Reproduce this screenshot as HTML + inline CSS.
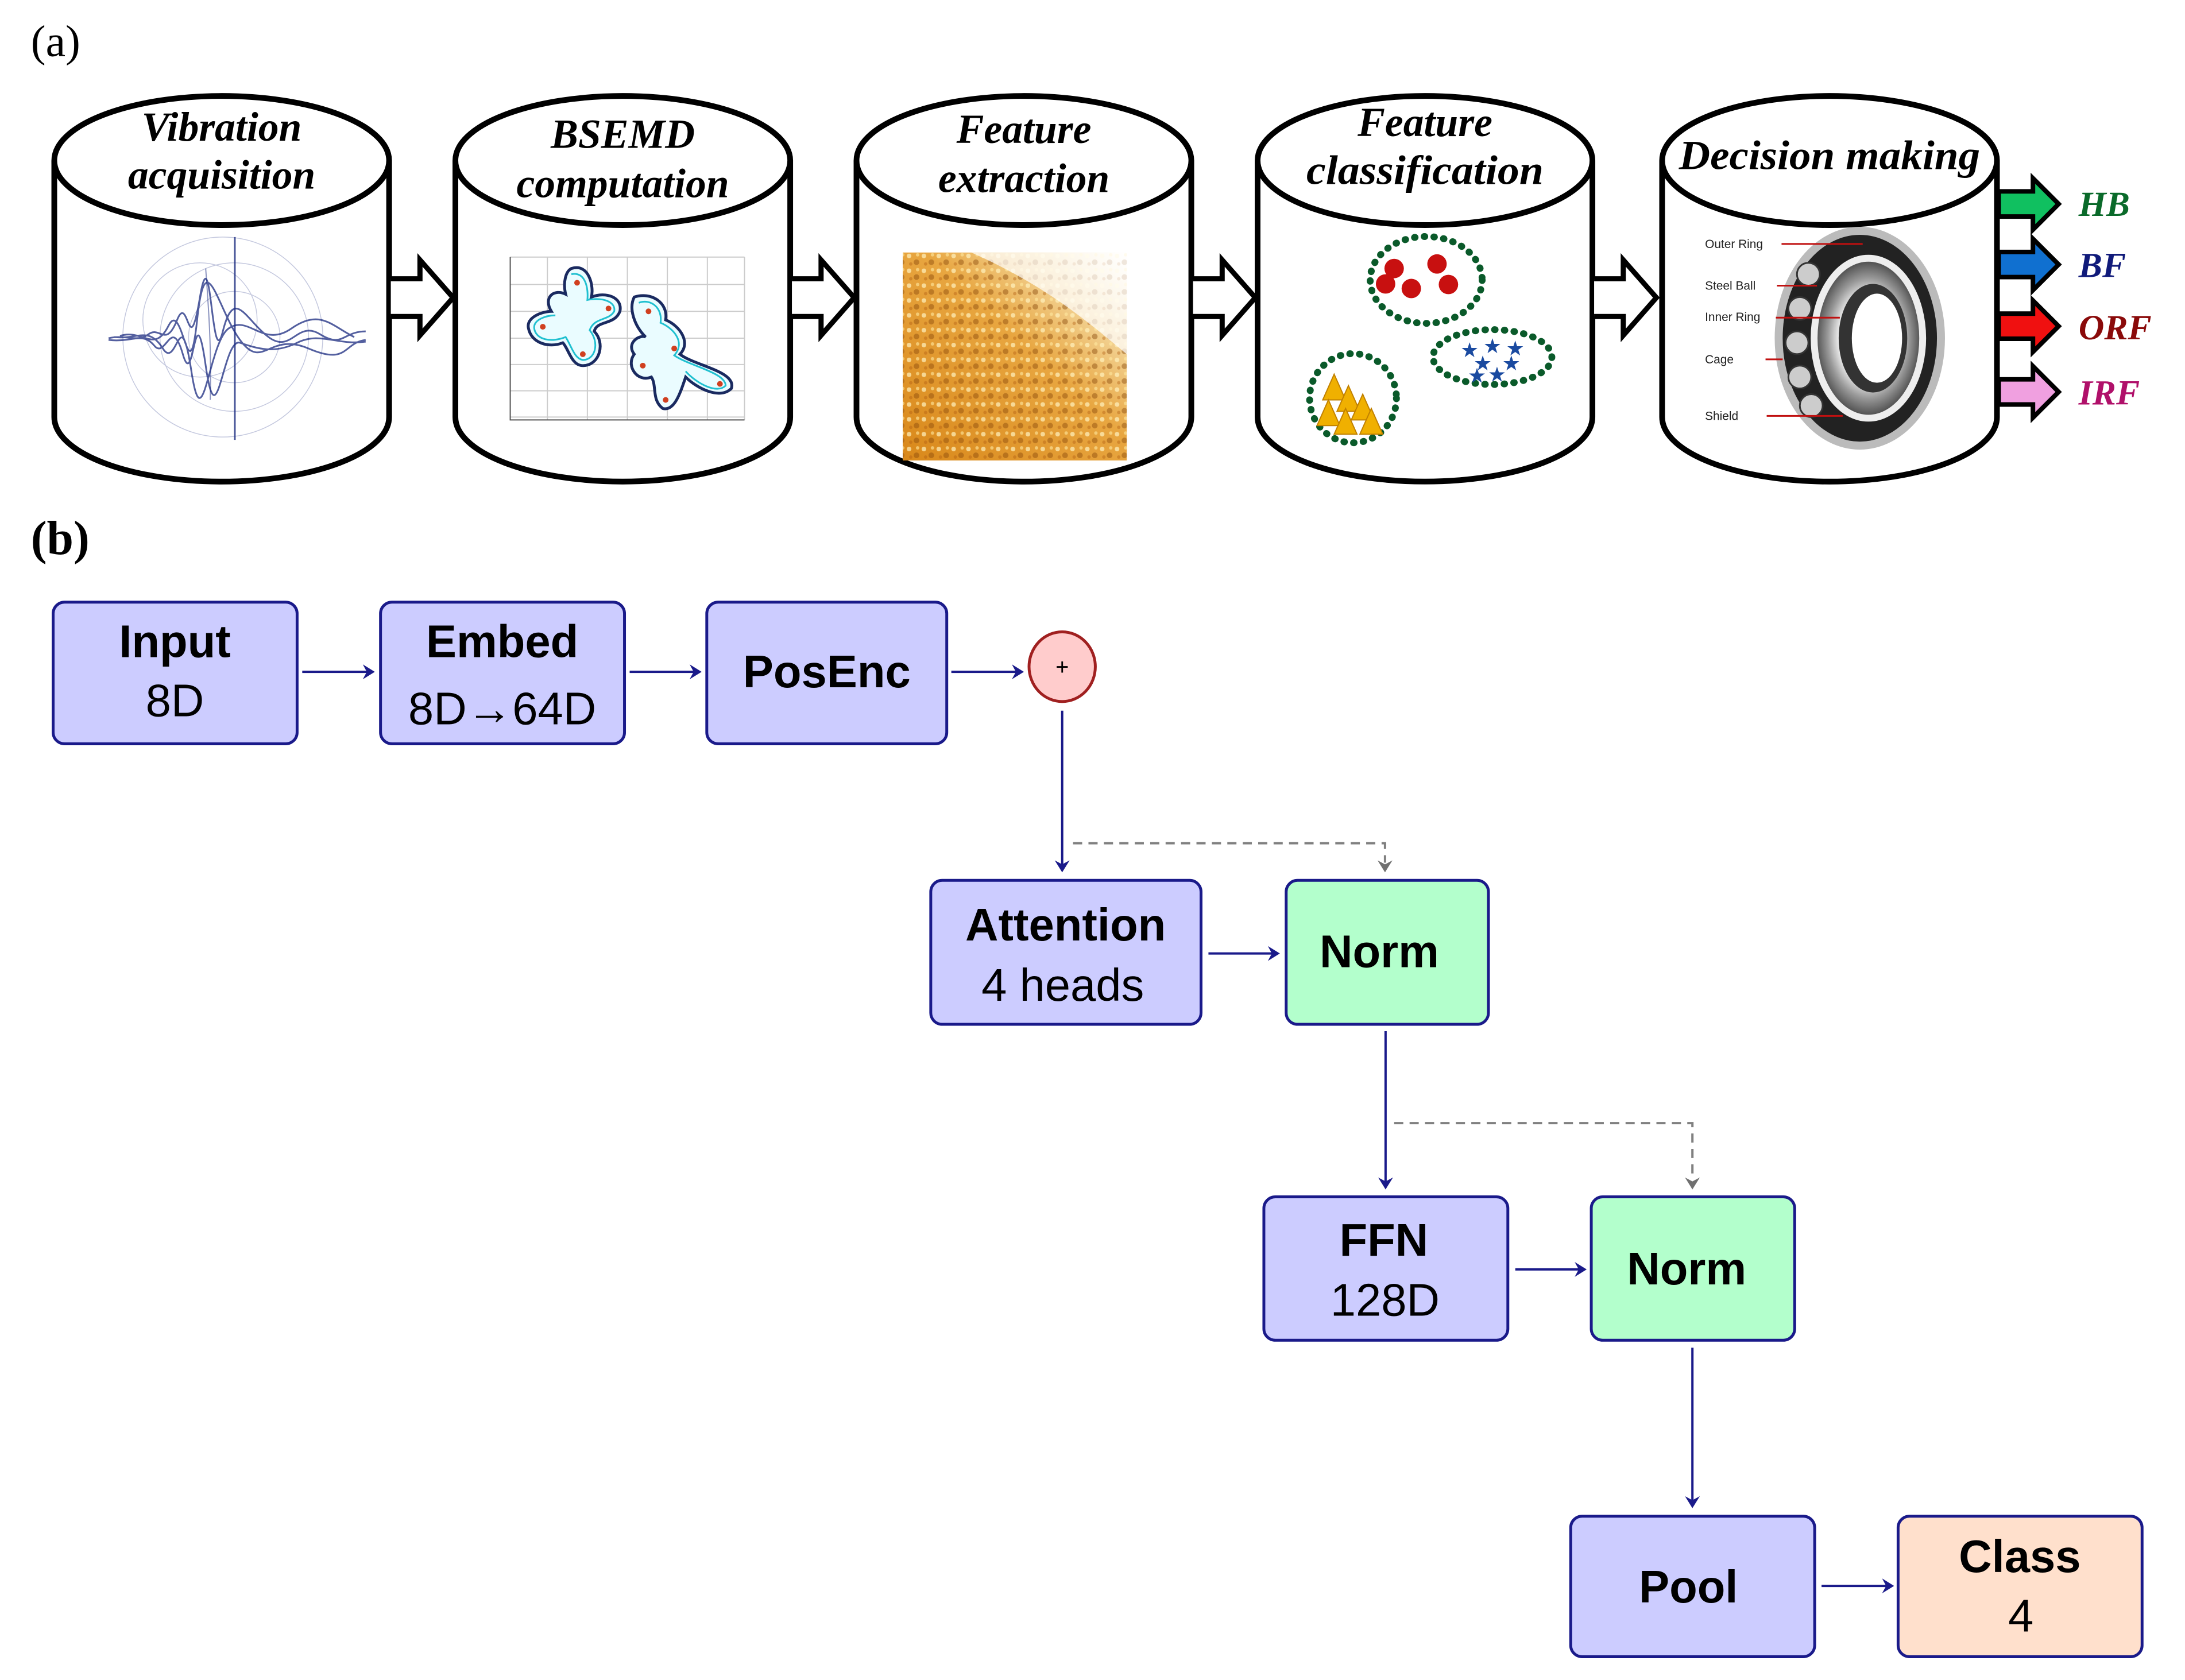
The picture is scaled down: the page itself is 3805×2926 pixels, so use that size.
<!DOCTYPE html>
<html><head><meta charset="utf-8"><style>html,body{margin:0;padding:0;background:#fff}svg{display:block}</style></head>
<body>
<svg xmlns="http://www.w3.org/2000/svg" width="3805" height="2926" viewBox="0 0 3805 2926">
<defs>
<linearGradient id="org" x1="0" y1="1" x2="1" y2="0">
<stop offset="0" stop-color="#d9881a"/><stop offset="0.55" stop-color="#e8a640"/><stop offset="0.8" stop-color="#f4d9a0"/><stop offset="1" stop-color="#ffffff"/>
</linearGradient>
<pattern id="spk" width="26" height="26" patternUnits="userSpaceOnUse">
<circle cx="5" cy="6" r="4" fill="#fff3c0" opacity="0.7"/><circle cx="18" cy="17" r="5" fill="#8a4a0a" opacity="0.45"/><circle cx="20" cy="4" r="3" fill="#ffe9a0" opacity="0.6"/><circle cx="8" cy="20" r="3" fill="#b05a10" opacity="0.4"/>
</pattern>
<radialGradient id="ring" cx="0.5" cy="0.5" r="0.5"><stop offset="0.5" stop-color="#fff"/><stop offset="0.75" stop-color="#999"/><stop offset="1" stop-color="#444"/></radialGradient>
</defs>
<g transform="scale(0.995)">
<!-- (a) -->
<text x="54" y="98" font-family="Liberation Serif, serif" font-size="78">(a)</text>

<g fill="#fff" stroke="#000" stroke-width="10">
<path d="M95,281 L95,730 A293,113 0 0 0 681,730 L681,281"/>
<ellipse cx="388" cy="281" rx="293" ry="113"/>
<path d="M797,281 L797,730 A293,113 0 0 0 1383,730 L1383,281"/>
<ellipse cx="1090" cy="281" rx="293" ry="113"/>
<path d="M1499,281 L1499,730 A293,113 0 0 0 2085,730 L2085,281"/>
<ellipse cx="1792" cy="281" rx="293" ry="113"/>
<path d="M2201,281 L2201,730 A293,113 0 0 0 2787,730 L2787,281"/>
<ellipse cx="2494" cy="281" rx="293" ry="113"/>
<path d="M2909,281 L2909,730 A293,113 0 0 0 3495,730 L3495,281"/>
<ellipse cx="3202" cy="281" rx="293" ry="113"/>
</g>

<g fill="#fff" stroke="#000" stroke-width="9" stroke-linejoin="miter">
<path d="M684,488 L735,488 L735,455 L793,521 L735,587 L735,554 L684,554"/>
<path d="M1386,488 L1437,488 L1437,455 L1495,521 L1437,587 L1437,554 L1386,554"/>
<path d="M2088,488 L2139,488 L2139,455 L2197,521 L2139,587 L2139,554 L2088,554"/>
<path d="M2790,488 L2841,488 L2841,455 L2899,521 L2841,587 L2841,554 L2790,554"/>
</g>

<g font-family="Liberation Serif, serif" font-weight="bold" font-style="italic" font-size="72" text-anchor="middle" fill="#000">
<text x="388" y="246">Vibration</text>
<text x="388" y="330">acquisition</text>
<text x="1090" y="259">BSEMD</text>
<text x="1090" y="345">computation</text>
<text x="1792" y="250">Feature</text>
<text x="1792" y="336">extraction</text>
<text x="2494" y="238">Feature</text>
<text x="2494" y="322" textLength="415" lengthAdjust="spacingAndGlyphs">classification</text>
<text x="3202" y="296" textLength="527" lengthAdjust="spacingAndGlyphs">Decision making</text>
</g>

<g fill="none" stroke="#1a2a80">
<g stroke-width="1.5" opacity="0.25">
<circle cx="410" cy="590" r="80"/><circle cx="410" cy="590" r="130"/><circle cx="390" cy="590" r="175"/><circle cx="350" cy="560" r="100"/>
</g>
<g stroke-width="3" opacity="0.75">
<path d="M190,592 C220,585 240,600 260,585 S290,610 310,560 S330,640 350,520 S370,660 390,580 S430,560 470,590 S520,560 560,585 S600,580 640,580"/>
<path d="M190,595 C230,600 250,580 270,605 S300,550 320,620 S340,500 360,640 S390,590 420,600 S480,620 520,600 S590,605 640,598"/>
<path d="M200,590 C240,595 260,570 285,610 S315,520 335,650 S365,600 400,575 S460,610 510,575 S580,570 620,590"/>
<path d="M210,588 C250,575 270,620 295,570 S330,700 345,560 S380,540 420,595 S470,580 540,610 S600,600 640,595"/>
</g>
<path d="M411,415 L411,770" stroke-width="3" opacity="0.8"/>
<path d="M360,470 C365,540 370,600 368,700" stroke-width="2" opacity="0.5"/>
</g>

<g>
<g stroke="#ccc" stroke-width="2">
<path d="M893,450 V735 M958,450 V735 M1028,450 V735 M1098,450 V735 M1168,450 V735 M1238,450 V735 M1303,450 V735"/>
<path d="M893,450 H1303 M893,498 H1303 M893,545 H1303 M893,592 H1303 M893,638 H1303 M893,684 H1303 M893,730 H1303"/>
</g>
<path d="M893,450 V735 H1303" stroke="#555" stroke-width="2" fill="none"/>
<g fill="#eafcff" stroke="#1a2a60" stroke-width="5">
<path d="M1000,470 C1030,460 1040,500 1035,520 C1060,510 1090,520 1085,545 C1075,570 1045,560 1040,580 C1060,600 1050,640 1020,640 C1000,640 995,610 985,600 C960,610 930,600 925,575 C920,555 950,545 965,545 C950,520 970,505 990,515 C985,495 990,475 1000,470Z"/>
<path d="M1110,520 C1140,510 1170,530 1165,560 C1190,570 1210,600 1190,620 C1215,640 1290,650 1280,680 C1260,700 1220,680 1200,660 C1190,690 1180,720 1160,715 C1140,700 1150,675 1140,660 C1115,670 1095,640 1110,620 C1095,600 1120,585 1130,590 C1110,570 1100,540 1110,520Z"/>
</g>
<g fill="none" stroke="#20c0d0" stroke-width="3">
<path d="M1000,480 C1025,475 1030,505 1028,525 C1055,520 1078,528 1075,545 C1065,562 1040,555 1032,578 C1050,600 1042,630 1020,630 C1005,628 1000,605 990,590 C965,600 938,595 935,575 C933,560 955,552 972,552"/>
<path d="M1118,530 C1140,522 1160,540 1156,565 C1180,575 1200,600 1180,622 C1205,640 1270,652 1270,675 C1255,690 1220,672 1200,650"/>
</g>
<g fill="#d04020"><circle cx="1010" cy="495" r="5"/><circle cx="1065" cy="540" r="5"/><circle cx="950" cy="572" r="5"/><circle cx="1020" cy="620" r="5"/><circle cx="1135" cy="545" r="5"/><circle cx="1180" cy="610" r="5"/><circle cx="1260" cy="672" r="5"/><circle cx="1165" cy="700" r="5"/><circle cx="1125" cy="640" r="5"/></g>
</g>

<rect x="1580" y="442" width="392" height="364" fill="url(#org)"/>
<rect x="1580" y="442" width="392" height="364" fill="url(#spk)"/>
<path d="M1700,442 L1972,442 L1972,620 C1900,560 1830,500 1700,442Z" fill="#fff" opacity="0.7"/>

<g fill="none" stroke="#0a5a2a" stroke-width="12" stroke-dasharray="1 16" stroke-linecap="round">
<ellipse cx="2496" cy="490" rx="98" ry="76"/>
<ellipse cx="2612" cy="625" rx="104" ry="48"/>
<ellipse cx="2368" cy="697" rx="76" ry="78"/>
</g>
<g fill="#c81010">
<circle cx="2440" cy="470" r="17"/><circle cx="2515" cy="462" r="17"/><circle cx="2425" cy="497" r="17"/><circle cx="2470" cy="505" r="17"/><circle cx="2535" cy="498" r="17"/>
</g>
<g fill="#1a4aa0" font-family="DejaVu Sans, sans-serif" font-size="36" text-anchor="middle">
<text x="2572" y="625">★</text><text x="2612" y="618">★</text><text x="2652" y="622">★</text><text x="2595" y="648">★</text><text x="2645" y="648">★</text><text x="2585" y="670">★</text><text x="2620" y="668">★</text>
</g>
<g fill="#f0b000" stroke="#c08000" stroke-width="2">
<path d="M2335,655 L2355,700 L2315,700Z"/><path d="M2360,675 L2380,720 L2340,720Z"/><path d="M2325,700 L2345,745 L2305,745Z"/><path d="M2385,690 L2405,735 L2365,735Z"/><path d="M2355,715 L2375,760 L2335,760Z"/><path d="M2400,715 L2420,760 L2380,760Z"/>
</g>

<g>
<ellipse cx="3255" cy="592" rx="142" ry="188" fill="#222" stroke="#bbb" stroke-width="14"/>
<ellipse cx="3270" cy="592" rx="95" ry="140" fill="url(#ring)" stroke="#eee" stroke-width="12"/>
<ellipse cx="3278" cy="592" rx="60" ry="95" fill="#333"/>
<ellipse cx="3285" cy="592" rx="44" ry="78" fill="#fff"/>
<g fill="#ccc" stroke="#333" stroke-width="3">
<circle cx="3165" cy="480" r="20"/><circle cx="3150" cy="540" r="20"/><circle cx="3145" cy="600" r="20"/><circle cx="3150" cy="660" r="20"/><circle cx="3170" cy="710" r="20"/>
</g>
</g>
<g stroke="#c01010" stroke-width="3">
<path d="M3118,427 H3260"/><path d="M3110,500 H3180"/><path d="M3108,556 H3220"/><path d="M3090,629 H3120"/><path d="M3092,728 H3225"/>
</g>
<g font-family="Liberation Sans, sans-serif" font-size="21" fill="#222">
<text x="2984" y="434">Outer Ring</text><text x="2984" y="507">Steel Ball</text><text x="2984" y="562">Inner Ring</text><text x="2984" y="636">Cage</text><text x="2984" y="735">Shield</text>
</g>

<g stroke="#000" stroke-width="8">
<path d="M3498,335 L3558,335 L3558,312 L3603,357 L3558,402 L3558,379 L3498,379Z" fill="#10c060"/>
<path d="M3498,441 L3558,441 L3558,418 L3603,463 L3558,508 L3558,485 L3498,485Z" fill="#1070d0"/>
<path d="M3498,549 L3558,549 L3558,526 L3603,571 L3558,616 L3558,593 L3498,593Z" fill="#f01010"/>
<path d="M3498,664 L3558,664 L3558,641 L3603,686 L3558,731 L3558,708 L3498,708Z" fill="#f0a0e0"/>
</g>
<g font-family="Liberation Serif, serif" font-weight="bold" font-style="italic" font-size="62">
<text x="3638" y="378" fill="#0a6a2a">HB</text>
<text x="3638" y="485" fill="#101a7a">BF</text>
<text x="3638" y="594" fill="#8a0a0a">ORF</text>
<text x="3638" y="708" fill="#b0106a">IRF</text>
</g>

<text x="54" y="970" font-family="Liberation Serif, serif" font-weight="bold" font-size="84">(b)</text>

<g stroke="#1a1a8a" stroke-width="5">
<rect x="93" y="1054" width="427" height="248" rx="20" fill="#ccccff"/>
<rect x="666" y="1054" width="427" height="248" rx="20" fill="#ccccff"/>
<rect x="1237" y="1054" width="420" height="248" rx="20" fill="#ccccff"/>
<rect x="1629" y="1541" width="473" height="252" rx="20" fill="#ccccff"/>
<rect x="2251" y="1541" width="354" height="252" rx="20" fill="#b3ffcc"/>
<rect x="2212" y="2095" width="427" height="251" rx="20" fill="#ccccff"/>
<rect x="2785" y="2095" width="356" height="251" rx="20" fill="#b3ffcc"/>
<rect x="2749" y="2654" width="427" height="246" rx="20" fill="#ccccff"/>
<rect x="3322" y="2654" width="427" height="246" rx="20" fill="#ffe0cc"/>
</g>
<ellipse cx="1859" cy="1167" rx="58" ry="61" fill="#ffcccc" stroke="#a02020" stroke-width="5"/>
<text x="1859" y="1181" font-family="Liberation Sans, sans-serif" font-size="40" text-anchor="middle">+</text>

<g font-family="Liberation Sans, sans-serif" font-size="80" text-anchor="middle" fill="#000">
<text x="306" y="1150" font-weight="bold">Input</text>
<text x="306" y="1254">8D</text>
<text x="879" y="1150" font-weight="bold">Embed</text>
<text x="879" y="1268">8D→64D</text>
<text x="1447" y="1203" font-weight="bold">PosEnc</text>
<text x="1865" y="1646" font-weight="bold">Attention</text>
<text x="1860" y="1752">4 heads</text>
<text x="2414" y="1693" font-weight="bold">Norm</text>
<text x="2422" y="2198" font-weight="bold">FFN</text>
<text x="2424" y="2303">128D</text>
<text x="2952" y="2248" font-weight="bold">Norm</text>
<text x="2955" y="2805" font-weight="bold">Pool</text>
<text x="3535" y="2752" font-weight="bold">Class</text>
<text x="3537" y="2856">4</text>
</g>

<g stroke="#808080" stroke-width="4" stroke-dasharray="16 11" fill="none">
<path d="M1878,1476 H2424 V1510"/>
<path d="M2440,1966 H2962 V2065"/>
</g>
<g stroke="#1a1a8a" stroke-width="4" fill="none">
<path d="M529,1176 H645"/><path d="M1102,1176 H1216"/><path d="M1665,1176 H1780"/>
<path d="M1859,1244 V1515"/>
<path d="M2115,1669 H2228"/>
<path d="M2425,1805 V2070"/>
<path d="M2652,2222 H2765"/>
<path d="M2962,2359 V2628"/>
<path d="M3188,2776 H3303"/>
</g>
<g fill="#1a1a8a">
<path d="M656,1176 L635,1163 L642,1176 L635,1189Z"/>
<path d="M1228,1176 L1207,1163 L1214,1176 L1207,1189Z"/>
<path d="M1792,1176 L1771,1163 L1778,1176 L1771,1189Z"/>
<path d="M1859,1527 L1846,1506 L1859,1513 L1872,1506Z"/>
<path d="M2240,1669 L2219,1656 L2226,1669 L2219,1682Z"/>
<path d="M2425,2082 L2412,2061 L2425,2068 L2438,2061Z"/>
<path d="M2777,2222 L2756,2209 L2763,2222 L2756,2235Z"/>
<path d="M2962,2640 L2949,2619 L2962,2626 L2975,2619Z"/>
<path d="M3315,2776 L3294,2763 L3301,2776 L3294,2789Z"/>
</g>
<g fill="#707070">
<path d="M2424,1527 L2411,1506 L2424,1513 L2437,1506Z"/>
<path d="M2962,2082 L2949,2061 L2962,2068 L2975,2061Z"/>
</g>
</g>
</svg>
</body></html>
